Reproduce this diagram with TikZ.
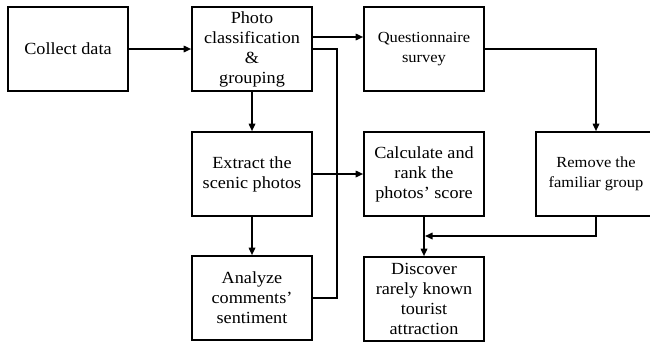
\documentclass[tikz,border=0pt]{standalone}
\usepackage{fontspec}
\setmainfont{Liberation Serif}[FakeStretch=1.07]
\usetikzlibrary{arrows.meta}
\begin{document}
\begin{tikzpicture}[x=1pt,y=-1pt,
  box/.style={draw, line width=1.6pt, minimum width=120pt, minimum height=84pt,
    inner sep=0pt, align=center, font=\fontsize{17}{20}\selectfont},
  smallbox/.style={box, font=\fontsize{15.4}{20}\selectfont},
  conn/.style={line width=1.6pt},
  arr/.style={conn, -{Triangle[length=7.5pt,width=6.5pt]}}]
\useasboundingbox (0,0) rectangle (650,343);
\node[box] (collect)  at (68,49)   {Collect data};
\node[box] (photo)    at (252,49)  {Photo\\classification\\\&\\grouping};
\node[smallbox] (quest) at (424,49) {Questionnaire\\survey};
\node[box] (extract)  at (252,174) {Extract the\\scenic photos};
\node[box] (calc)     at (424,174) {Calculate and\\rank the\\photos’ score};
\node[smallbox] (remove) at (596,174) {Remove the\\familiar group};
\node[box] (analyze)  at (252,298) {Analyze\\comments’\\sentiment};
\node[box] (discover) at (424,299) {Discover\\rarely known\\tourist\\attraction};
\coordinate (j) at (337,174);
\coordinate (k) at (425,236);
\draw[arr] (collect) -- (photo);
\draw[arr] ([yshift=12pt]photo.east) -- ([yshift=12pt]quest.west);
\draw[conn] (photo.east) -| (j);
\draw[conn] (analyze.east) -| (j);
\draw[arr] (extract) -- (calc);
\draw[arr] (photo) -- (extract);
\draw[arr] (extract) -- (analyze);
\draw[arr] (quest.east) -| (remove.north);
\draw[arr] (remove.south) |- (k);
\draw[arr] (calc) -- (discover);
\end{tikzpicture}
\end{document}
